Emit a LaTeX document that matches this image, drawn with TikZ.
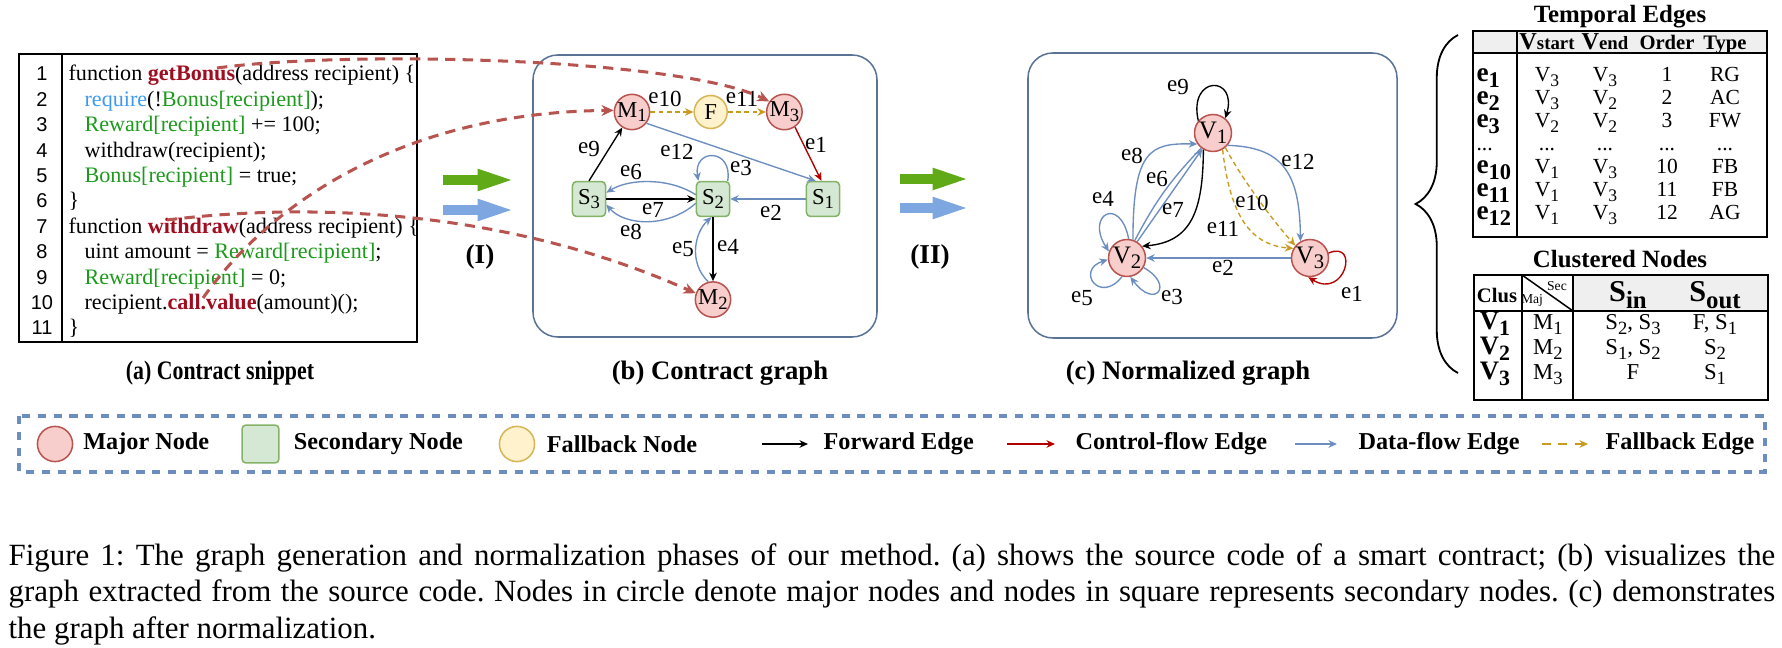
\documentclass[tikz,border=0pt]{standalone}
\usepackage{fontspec}
\setmainfont{Liberation Serif}
\newfontfamily\numfont{Liberation Sans}
\usepackage{graphicx}
\usepackage{tikz}
\usetikzlibrary{arrows.meta, positioning, calc, decorations.pathreplacing}

\definecolor{majfill}{HTML}{F8CECC}
\definecolor{majdraw}{HTML}{B85450}
\definecolor{secfill}{HTML}{D5E8D4}
\definecolor{secdraw}{HTML}{82B366}
\definecolor{fbfill}{HTML}{FFF2CC}
\definecolor{fbdraw}{HTML}{D6B656}
\definecolor{dfblue}{HTML}{6C8EBF}
\definecolor{cfred}{HTML}{B20000}
\definecolor{fbgold}{HTML}{C99A1E}
\definecolor{linkred}{HTML}{B85450}
\definecolor{boxline}{HTML}{5A7294}
\definecolor{codegreen}{HTML}{1C9A1C}
\definecolor{codeblue}{HTML}{3D9BEF}
\definecolor{codered}{HTML}{A00D20}
\definecolor{bigreen}{HTML}{60A917}
\definecolor{bigblue}{HTML}{7EA6E0}
\definecolor{headgray}{HTML}{EFEFEF}

% subscripts as the figure draws them
\newcommand{\lsub}[2]{#1\raisebox{-0.45ex}{\scalebox{0.82}{#2}}}
\newcommand{\elab}[1]{e\raisebox{-0.3ex}{#1}}
\newcommand{\te}[1]{{\bfseries\fontsize{9}{9}\selectfont e\raisebox{-0.45ex}{\fontsize{7.4}{8}\selectfont #1}}}
\newcommand{\cv}[1]{{\bfseries\fontsize{8.8}{9}\selectfont\lsub{V}{#1}}}
\newcommand{\tdots}{...}

\tikzset{
  % graph nodes
  majnode/.style={
    circle, draw=majdraw, fill=majfill, line width=0.5pt,
    minimum size=10.9pt, inner sep=0pt, font=\fontsize{7.5}{8}\selectfont,
  },
  secnode/.style={
    rectangle, rounded corners=1.3pt, draw=secdraw, fill=secfill, line width=0.5pt,
    minimum width=10.9pt, minimum height=11.5pt, inner sep=0pt,
    font=\fontsize{7.5}{8}\selectfont,
  },
  fbnode/.style={
    circle, draw=fbdraw, fill=fbfill, line width=0.5pt,
    minimum size=10.9pt, inner sep=0pt, font=\fontsize{7.5}{8}\selectfont,
  },
  vnode/.style={majnode, minimum size=12.2pt, font=\fontsize{8.3}{9}\selectfont},
  % edges
  fwedge/.style={-{Stealth[length=2.8pt, width=2.5pt]}, line width=0.45pt, draw=black},
  cfedge/.style={fwedge, draw=cfred},
  dfedge/.style={fwedge, draw=dfblue},
  fbedge/.style={fwedge, draw=fbgold, dash pattern=on 1.6pt off 1.1pt},
  linkedge/.style={
    -{Stealth[length=4pt, width=3.6pt]}, draw=linkred, line width=1pt,
    dash pattern=on 3.4pt off 2.4pt,
  },
  bigarrow/.style={-{Triangle[length=13pt, width=6.2pt]}, line width=3.3pt, draw=#1},
  elabel/.style={font=\fontsize{7.6}{8}\selectfont, inner sep=0pt},
  % boxes and texts
  panel/.style={draw=boxline, line width=0.5pt, rounded corners=8.2pt},
  codeline/.style={anchor=base west, inner sep=0pt, font=\fontsize{7.3}{8}\selectfont},
  numline/.style={anchor=base, inner sep=0pt, font=\numfont\fontsize{6.6}{8}\selectfont},
  subcap/.style={font=\bfseries\fontsize{8.8}{10}\selectfont, inner sep=0pt},
  tabtitle/.style={font=\bfseries\fontsize{8.2}{9}\selectfont, inner sep=0pt},
  tabcell/.style={anchor=base, inner sep=0pt, font=\fontsize{7.1}{8}\selectfont},
  tabhead/.style={anchor=base, inner sep=0pt, font=\bfseries\fontsize{6.8}{8}\selectfont},
  tabrule/.style={line width=0.75pt, draw=black},
  legtext/.style={font=\bfseries\fontsize{8}{9}\selectfont, inner sep=0pt, anchor=west},
  legendbox/.style={draw=dfblue, line width=1pt, dash pattern=on 2.7pt off 2.5pt},
}

\begin{document}
\begin{tikzpicture}[x=0.33pt, y=0.33pt]
  \useasboundingbox (0,0) rectangle (1782,-648);

  % (a) code snippet
  \draw[line width=0.6pt] (19,-54) rectangle (417,-342);
  \draw[line width=0.6pt] (62,-54) -- (62,-342);
  \foreach \n in {1,...,11}
    \node[numline] (num\n) at (42,{-81-25.4*(\n-1)}) {\n};
  \node[codeline] (code1) at (68,-81) {function \textcolor{codered}{\textbf{getBonus}}(address recipient) \{};
  \node[codeline] (code2) at (84,-106.4) {\textcolor{codeblue}{require}(!\textcolor{codegreen}{Bonus[recipient]});};
  \node[codeline] (code3) at (84,-131.8) {\textcolor{codegreen}{Reward[recipient]} += 100;};
  \node[codeline] (code4) at (84,-157.2) {withdraw(recipient);};
  \node[codeline] (code5) at (84,-182.6) {\textcolor{codegreen}{Bonus[recipient]} = true;};
  \node[codeline] (code6) at (68,-208) {\}};
  \node[codeline] (code7) at (68,-233.4) {function \textcolor{codered}{\textbf{withdraw}}(address recipient) \{};
  \node[codeline] (code8) at (84,-258.8) {uint amount = \textcolor{codegreen}{Reward[recipient]};};
  \node[codeline] (code9) at (84,-284.2) {\textcolor{codegreen}{Reward[recipient]} = 0;};
  \node[codeline] (code10) at (84,-309.6) {recipient.\textcolor{codered}{\textbf{call.value}}(amount)();};
  \node[codeline] (code11) at (68,-335) {\}};
  \node[subcap] (capa) at (220,-373) {\scalebox{0.82}[1]{(a) Contract snippet}};

  % step (I)
  \coordinate (gIs) at (443,-180);
  \coordinate (gIe) at (517,-180);
  \coordinate (bIs) at (443,-210);
  \coordinate (bIe) at (517,-210);
  \draw[bigarrow=bigreen] (gIs) -- (gIe);
  \draw[bigarrow=bigblue] (bIs) -- (bIe);
  \node[subcap, font=\bfseries\fontsize{9}{10}\selectfont] (stepI) at (480,-257) {(I)};

  % (b) contract graph
  \draw[panel] (533,-55) rectangle (877,-337);
  \node[majnode] (M1) at (632,-112) {\lsub{M}{1}};
  \node[fbnode, right=14.2pt of M1] (F) {F};
  \node[majnode, right=12.5pt of F] (M3) {\lsub{M}{3}};
  \node[secnode] (S3) at (589,-199) {\lsub{S}{3}};
  \node[secnode] (S2) at (713,-199) {\lsub{S}{2}};
  \node[secnode] (S1) at (823,-199) {\lsub{S}{1}};
  \node[majnode, below=21.1pt of S2] (M2) {\lsub{M}{2}};

  \draw[fbedge] (M1) -- (F);
  \draw[fbedge] (F) -- (M3);
  \draw[cfedge] (M3.-55) -- (S1.95);
  \draw[dfedge] (M1.-38) -- (S1.112);
  \draw[fwedge] (S3.north) -- (M1.-122);
  \draw[dfedge] (S2.51) .. controls (733,-148) and (693,-148) .. (S2.129);
  \draw[dfedge] (S2.166) .. controls (670,-178) and (630,-178) .. (S3.20);
  \draw[fwedge] (S3) -- (S2);
  \draw[dfedge] (S2.194) .. controls (668,-228) and (625,-226) .. (S3.-18);
  \draw[dfedge] (S1) -- (S2);
  \draw[fwedge] (S2) -- (M2);
  \draw[dfedge] (M2.105) .. controls (688,-262) and (695,-232) .. (S2.265);

  \node[elabel] (lb10) at (665,-99) {\elab{10}};
  \node[elabel] (lb11) at (742,-99) {\elab{11}};
  \node[elabel] (lb12) at (677,-152) {\elab{12}};
  \node[elabel] (lb9) at (589,-149) {\elab{9}};
  \node[elabel] (lb1) at (816,-145) {\elab{1}};
  \node[elabel] (lb3) at (741,-168) {\elab{3}};
  \node[elabel] (lb6) at (631,-172) {\elab{6}};
  \node[elabel] (lb7) at (653,-210) {\elab{7}};
  \node[elabel] (lb8) at (631,-232) {\elab{8}};
  \node[elabel] (lb2) at (771,-213) {\elab{2}};
  \node[elabel] (lb4) at (728,-247) {\elab{4}};
  \node[elabel] (lb5) at (683,-249) {\elab{5}};
  \node[subcap] (capb) at (720,-373) {(b) Contract graph};

  % links from the code to the graph
  \coordinate (srcbonus) at (217,-68);
  \coordinate (srcwithdraw) at (167,-220);
  \coordinate (srcvalue) at (203,-298);
  \draw[linkedge] (srcbonus) .. controls (350,-50) and (680,-58) .. (M3.145);
  \draw[linkedge] (srcvalue) .. controls (280,-190) and (420,-112) .. (M1.175);
  \draw[linkedge] (srcwithdraw) .. controls (330,-200) and (520,-215) .. (M2.160);

  % step (II)
  \coordinate (gIIs) at (900,-179);
  \coordinate (gIIe) at (972,-179);
  \coordinate (bIIs) at (900,-208);
  \coordinate (bIIe) at (972,-208);
  \draw[bigarrow=bigreen] (gIIs) -- (gIIe);
  \draw[bigarrow=bigblue] (bIIs) -- (bIIe);
  \node[subcap, font=\bfseries\fontsize{9}{10}\selectfont] (stepII) at (930,-257) {(II)};

  % (c) normalized graph
  \draw[panel] (1028,-53) rectangle (1397,-338);
  \node[vnode] (V1) at (1213,-133) {\lsub{V}{1}};
  \node[vnode] (V2) at (1127,-258) {\lsub{V}{2}};
  \node[vnode] (V3) at (1310,-258) {\lsub{V}{3}};

  \draw[fwedge] (V1.140) .. controls (1188,-75) and (1238,-75) .. (V1.50);
  \draw[dfedge] (V2.72) .. controls (1133,-150) and (1150,-143) .. (V1.215);
  \draw[dfedge] (V2.58) -- (V1.236);
  \draw[dfedge, -] (V2.66) to[bend left=8] (V1.232);
  \draw[fwedge] (V1.240) .. controls (1203,-210) and (1192,-242) .. (V2.38);
  \draw[dfedge] (V1.-40) .. controls (1280,-147) and (1300,-170) .. (V3.120);
  \draw[fbedge] (V1.-50) .. controls (1240,-175) and (1268,-215) .. (V3.140);
  \draw[fbedge] (V1.-60) .. controls (1230,-215) and (1250,-245) .. (V3.150);
  \draw[dfedge] (V3) -- (V2);
  \draw[cfedge] (V3.15) .. controls (1360,-240) and (1345,-300) .. (V3.-95);
  \draw[dfedge] (V2.85) .. controls (1120,-195) and (1085,-215) .. (V2.160);
  \draw[dfedge] (V2.255) .. controls (1100,-305) and (1075,-270) .. (V2.185);
  \draw[dfedge] (V2.-30) .. controls (1175,-285) and (1155,-310) .. (V2.-80);

  \node[elabel] (lc9) at (1178,-87) {\elab{9}};
  \node[elabel] (lc8) at (1132,-156) {\elab{8}};
  \node[elabel] (lc6) at (1157,-179) {\elab{6}};
  \node[elabel] (lc7) at (1173,-210) {\elab{7}};
  \node[elabel] (lc4) at (1103,-199) {\elab{4}};
  \node[elabel] (lc12) at (1298,-162) {\elab{12}};
  \node[elabel] (lc10) at (1252,-203) {\elab{10}};
  \node[elabel] (lc11) at (1223,-229) {\elab{11}};
  \node[elabel] (lc2) at (1223,-268) {\elab{2}};
  \node[elabel] (lc5) at (1082,-298) {\elab{5}};
  \node[elabel] (lc3) at (1172,-297) {\elab{3}};
  \node[elabel] (lc1) at (1352,-294) {\elab{1}};
  \node[subcap] (capc) at (1188,-373) {(c) Normalized graph};

  % brace
  \coordinate (brbot) at (1458,-373);
  \coordinate (brtop) at (1458,-35);
  \draw[decorate, decoration={brace, amplitude=14pt}, line width=0.6pt] (brbot) -- (brtop);

  % temporal edges table
  \node[tabtitle] (ttitle) at (1620,-17) {Temporal Edges};
  \fill[headgray] (1473,-31) rectangle (1767,-53);
  \draw[tabrule] (1473,-31) rectangle (1767,-237);
  \draw[tabrule] (1473,-53) -- (1767,-53);
  \draw[tabrule] (1517,-31) -- (1517,-237);
  \node[tabhead] (hvs) at (1547,-50) {\fontsize{8}{8}\selectfont V\fontsize{6.2}{7}\selectfont start};
  \node[tabhead] (hve) at (1605,-50) {\fontsize{8}{8}\selectfont V\fontsize{6.2}{7}\selectfont end};
  \node[tabhead] (hord) at (1667,-50) {Order};
  \node[tabhead] (htyp) at (1725,-50) {Type};
  \foreach \ca/\cb/\cc/\cd/\ce [count=\r from 0] in {
      {\te{1}}/{\lsub{V}{3}}/{\lsub{V}{3}}/1/RG,
      {\te{2}}/{\lsub{V}{3}}/{\lsub{V}{2}}/2/AC,
      {\te{3}}/{\lsub{V}{2}}/{\lsub{V}{2}}/3/FW,
      \tdots/\tdots/\tdots/\tdots/\tdots,
      {\te{10}}/{\lsub{V}{1}}/{\lsub{V}{3}}/10/FB,
      {\te{11}}/{\lsub{V}{1}}/{\lsub{V}{3}}/11/FB,
      {\te{12}}/{\lsub{V}{1}}/{\lsub{V}{3}}/12/AG} {
    \node[tabcell, anchor=base west] (tea\r) at (1476,{-82-23*\r}) {\ca};
    \node[tabcell] (teb\r) at (1547,{-82-23*\r}) {\cb};
    \node[tabcell] (tec\r) at (1605,{-82-23*\r}) {\cc};
    \node[tabcell] (ted\r) at (1667,{-82-23*\r}) {\cd};
    \node[tabcell] (tee\r) at (1725,{-82-23*\r}) {\ce};
  }

  % clustered nodes table
  \node[tabtitle] (ctitle) at (1620,-259) {Clustered Nodes};
  \fill[headgray] (1573,-275) rectangle (1768,-311);
  \draw[tabrule] (1474,-275) rectangle (1768,-400);
  \draw[tabrule] (1474,-311) -- (1768,-311);
  \draw[tabrule] (1522,-275) -- (1522,-400);
  \draw[tabrule] (1573,-275) -- (1573,-400);
  \draw[line width=0.5pt] (1522,-275) -- (1573,-311);
  \node[tabhead] (hclus) at (1497,-303) {Clus};
  \node[tabcell, font=\fontsize{4.5}{5}\selectfont] (hsec) at (1557,-291) {Sec};
  \node[tabcell, font=\fontsize{4.5}{5}\selectfont] (hmaj) at (1532,-304) {Maj};
  \node[tabhead] (hsin) at (1628,-302) {\fontsize{10}{10}\selectfont\lsub{S}{in}};
  \node[tabhead] (hsout) at (1715,-302) {\fontsize{10}{10}\selectfont\lsub{S}{out}};
  \foreach \ca/\cb/\cc/\cd [count=\r from 0] in {
      1/1/{\lsub{S}{2}, \lsub{S}{3}}/{F, \lsub{S}{1}},
      2/2/{\lsub{S}{1}, \lsub{S}{2}}/{\lsub{S}{2}},
      3/3/F/{\lsub{S}{1}}} {
    \node[tabcell] (cla\r) at (1495,{-330-25*\r}) {\cv{\ca}};
    \node[tabcell, font=\fontsize{7.5}{9}\selectfont] (clb\r) at (1548,{-330-25*\r}) {\lsub{M}{\cb}};
    \node[tabcell, font=\fontsize{7.5}{9}\selectfont] (clc\r) at (1633,{-330-25*\r}) {\cc};
    \node[tabcell, font=\fontsize{7.5}{9}\selectfont] (cld\r) at (1715,{-330-25*\r}) {\cd};
  }

  % legend
  \draw[legendbox] (19,-416) rectangle (1765,-472);
  \node[majnode, minimum size=11.6pt] (lgmaj) at (55,-444) {};
  \node[legtext, right=3.1pt of lgmaj] (lgmajt) {Major Node};
  \node[secnode, minimum width=12.2pt, minimum height=12.5pt] (lgsec) at (260.5,-444) {};
  \node[legtext, right=4.5pt of lgsec] (lgsect) {Secondary Node};
  \node[fbnode, minimum size=11.6pt] (lgfb) at (517,-444) {};
  \node[legtext, right=3.6pt of lgfb] (lgfbt) {Fallback Node};
  \coordinate (lgfws) at (762,-444);
  \coordinate (lgfwe) at (808,-444);
  \draw[fwedge] (lgfws) -- (lgfwe);
  \node[legtext] (lgfwt) at (823,-444) {Forward Edge};
  \coordinate (lgcfs) at (1007,-444);
  \coordinate (lgcfe) at (1055,-444);
  \draw[cfedge] (lgcfs) -- (lgcfe);
  \node[legtext] (lgcft) at (1075,-444) {Control-flow Edge};
  \coordinate (lgdfs) at (1295,-444);
  \coordinate (lgdfe) at (1337,-444);
  \draw[dfedge] (lgdfs) -- (lgdfe);
  \node[legtext] (lgdft) at (1358,-444) {Data-flow Edge};
  \coordinate (lgfbs) at (1542,-444);
  \coordinate (lgfbe) at (1588,-444);
  \draw[fbedge, line width=0.9pt, dash pattern=on 3pt off 2.4pt] (lgfbs) -- (lgfbe);
  \node[legtext] (lgfbtt) at (1605,-444) {Fallback Edge};

  % figure caption
  \node[anchor=north west, inner sep=0pt, text width=583pt, align=justify,
    font=\fontsize{10.2}{12}\selectfont\frenchspacing] (figcap) at (8,-543) {Figure 1: The graph generation and normalization phases of our method. (a) shows the source code of a smart contract; (b) visualizes the\linebreak graph extracted from the source code. Nodes in circle denote major nodes and nodes in square represents secondary nodes. (c) demonstrates\linebreak the graph after normalization.};
\end{tikzpicture}
\end{document}
